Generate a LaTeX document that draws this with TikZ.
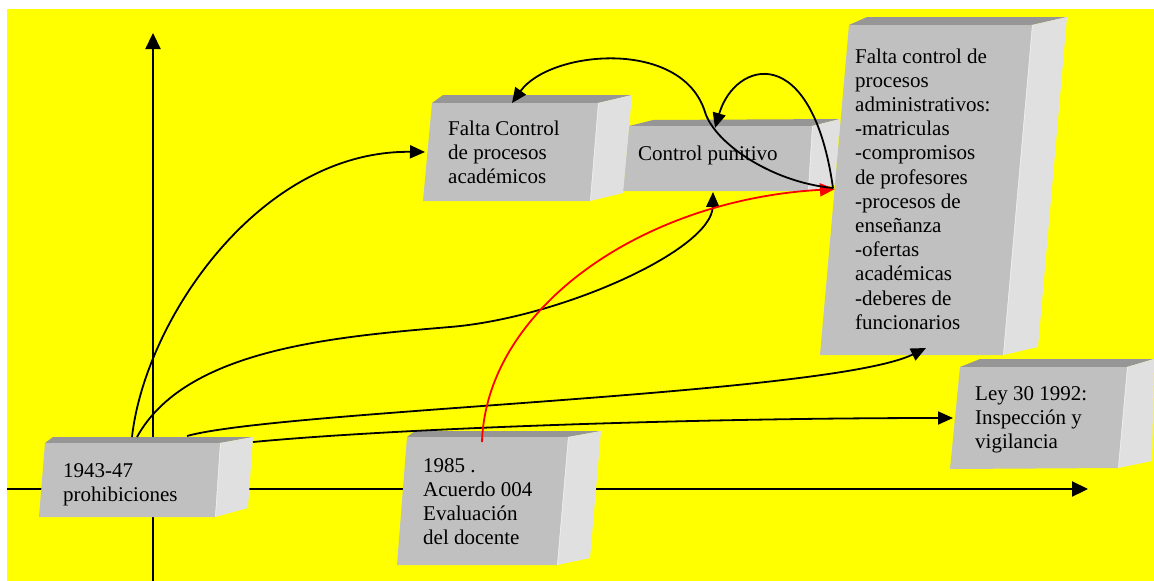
\documentclass[tikz,border=0pt]{standalone}
\usepackage{fontspec}
\setmainfont{Liberation Serif}
\usetikzlibrary{arrows.meta}
\definecolor{bgyellow}{RGB}{255,255,0}
\definecolor{linered}{RGB}{255,0,0}
\definecolor{topgray}{RGB}{150,150,150}
\definecolor{sidegray}{RGB}{224,224,224}
\definecolor{frontgray}{RGB}{192,192,192}
\definecolor{hlgray}{RGB}{240,240,240}
\newcommand\boxtext[1]{\parbox[t]{260pt}{\fontsize{21}{24.2}\selectfont\raggedright #1}}
\newcommand\solidbox[7]{%
  \fill[topf] (#1) -- (#5) -- (#6) -- (#2) -- cycle;
  \fill[sidef] (#2) -- (#6) -- (#7) -- (#3) -- cycle;
  \draw[edgehl] (#2) -- (#3);
  \fill[frontf] (#1) -- (#2) -- (#3) -- (#4) -- cycle;}
\begin{document}
\begin{tikzpicture}[x=1pt,y=-1pt,
  conn/.style={line width=1.8pt,-{Triangle[length=15pt,width=13pt]}},
  axisline/.style={line width=2.2pt,-{Triangle[length=16pt,width=15pt]}},
  lbl/.style={anchor=base west,inner sep=0pt},
  topf/.style={fill=topgray},
  sidef/.style={fill=sidegray},
  frontf/.style={fill=frontgray},
  edgehl/.style={draw=hlgray,line width=1.6pt}]
\fill[white] (0,0) rectangle (1154,581);
\useasboundingbox (0,0) rectangle (1154,581);
\fill[bgyellow] (7,9) rectangle (1154,581);
% axes
\coordinate (yb) at (153,581);
\coordinate (yt) at (153,33);
\coordinate (xl) at (7,489);
\coordinate (xr) at (1088,489);
\draw[axisline] (yb) -- (yt);
\draw[axisline] (xl) -- (xr);
% boxes
\solidbox{629,126}{812,126}{808,191}{623,191}{653,120}{840,119}{835,185}
\solidbox{432,103}{598,103}{590,201}{423,201}{443,95}{632,95}{623,193}
\solidbox{849,25}{1032,25}{1003,355}{820,355}{867,17}{1067,17}{1038,347}
\solidbox{960,367}{1127,367}{1118,468}{950,469}{980,359}{1154,359}{1152,461}
\solidbox{45,443}{220,443}{215,517}{39,517}{53,437}{253,437}{248,508}
\solidbox{407,437}{568,437}{557,565}{397,565}{415,431}{601,431}{590,558}
% texts
\node[lbl] (t1) at (63,477) {\boxtext{1943-47\\prohibiciones}};
\node[lbl] (t2) at (423,472) {\boxtext{1985 .\\Acuerdo 004\\Evaluación\\del docente}};
\node[lbl] (t3) at (448,135) {\boxtext{Falta Control\\de procesos\\académicos}};
\node[lbl] (t4) at (638,160) {\boxtext{Control punitivo}};
\node[lbl] (t5) at (855,63) {\boxtext{Falta control de\\procesos\\administrativos:\\-matriculas\\-compromisos\\de profesores\\-procesos de\\enseñanza\\-ofertas\\académicas\\-deberes de\\funcionarios}};
\node[lbl] (t6) at (975,400) {\boxtext{Ley 30 1992:\\Inspección y\\vigilancia}};
% connector ends
\coordinate (p1a) at (132,437);
\coordinate (p1b) at (137,437);
\coordinate (p1c) at (187,436);
\coordinate (p1d) at (253,442);
\coordinate (p2) at (482,442);
\coordinate (fcL) at (425,152);
\coordinate (fcT) at (512,103);
\coordinate (cpB) at (713,192);
\coordinate (cpT) at (715,128);
\coordinate (bgL) at (835,189);
\coordinate (bgS) at (833,188);
\coordinate (bgB) at (926,348);
\coordinate (leyL) at (953,418);
% connectors
\draw[conn] (p1a) .. controls (145,320) and (260,150) .. (fcL);
\draw[conn] (p1b) .. controls (185,350) and (330,337) .. (450,327) .. controls (560,318) and (712,250) .. (cpB);
\draw[conn] (p1c) .. controls (280,410) and (830,395) .. (bgB);
\draw[conn] (p1d) .. controls (400,428) and (700,418) .. (leyL);
\draw[conn,linered] (p2) .. controls (486,310) and (640,200) .. (bgL);
\draw[conn] (bgS) .. controls (770,182) and (714,142) .. (705,112) .. controls (682,38) and (550,50) .. (fcT);
\draw[conn] (bgS) .. controls (812,40) and (735,60) .. (cpT);
\end{tikzpicture}
\end{document}
